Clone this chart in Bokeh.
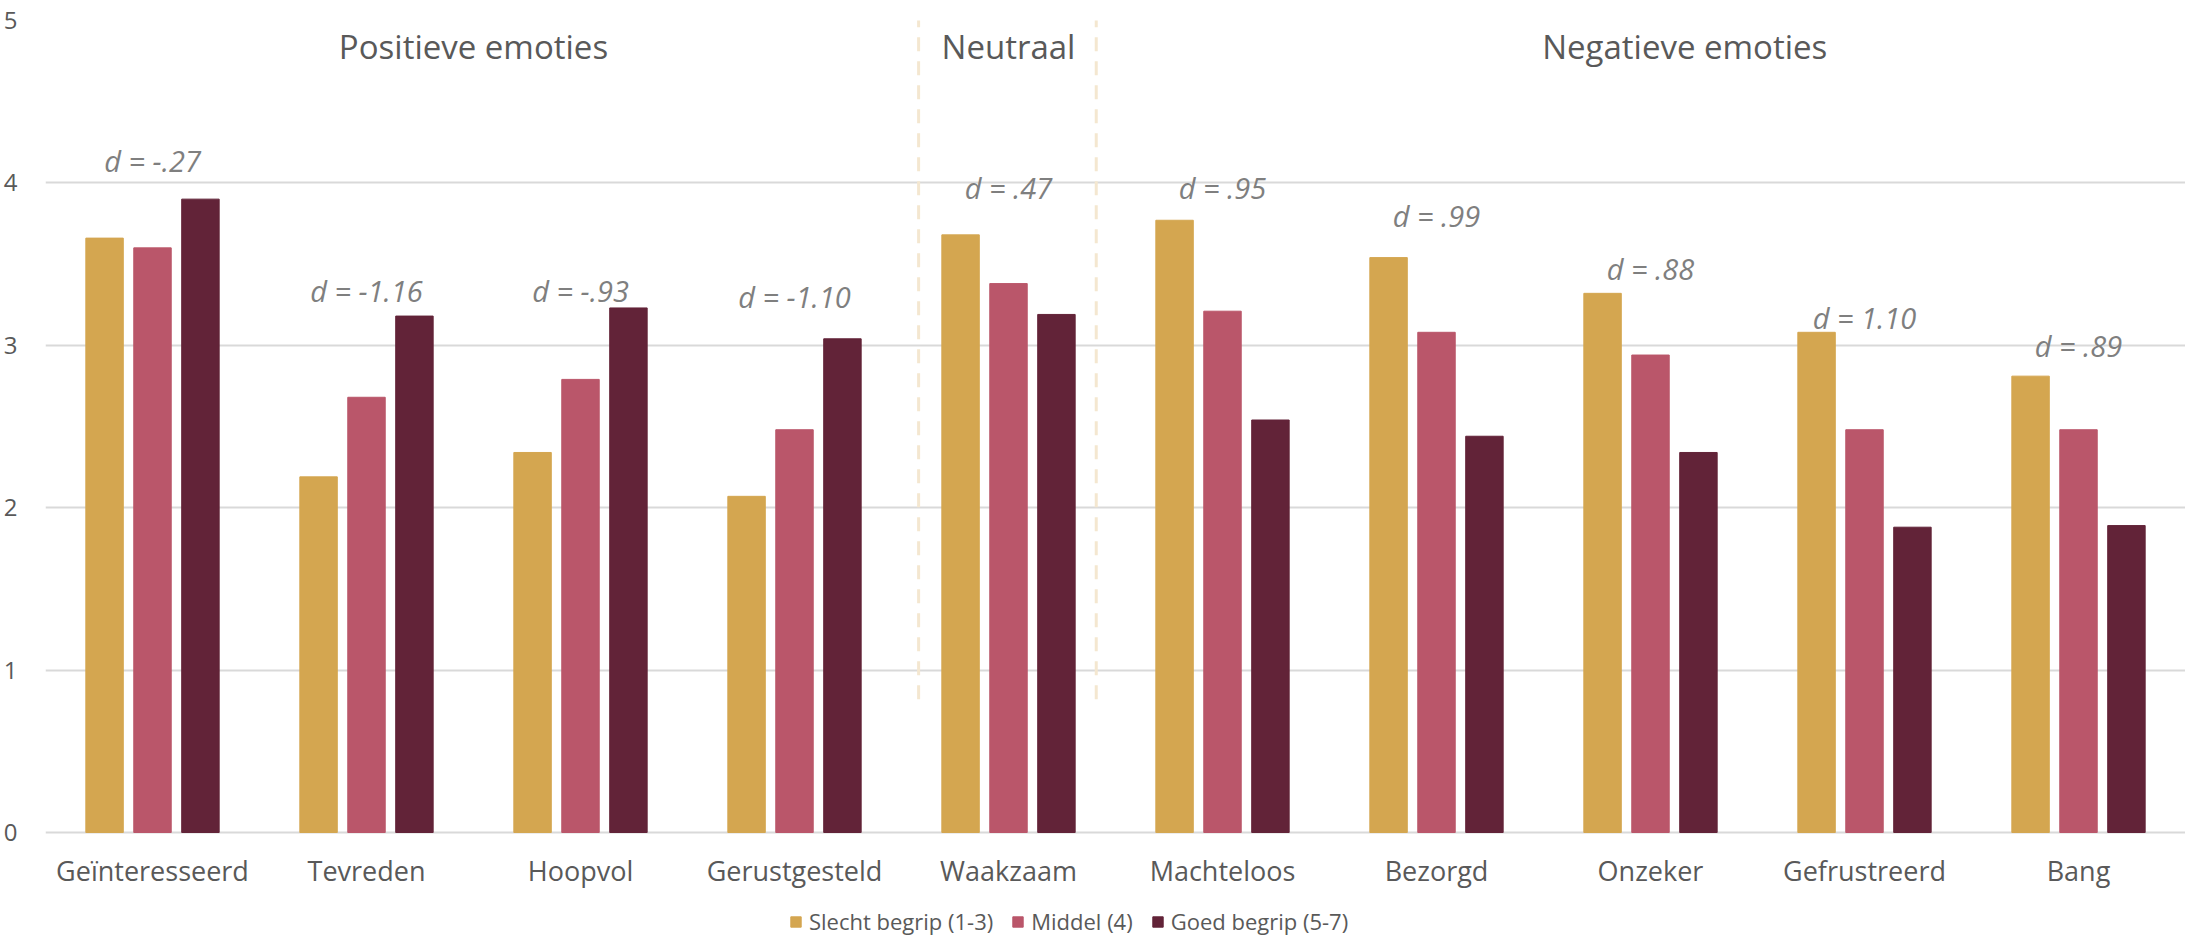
from bokeh.plotting import figure
from bokeh.models import ColumnDataSource, Legend, LegendItem, FixedTicker, Range1d
from bokeh.transform import dodge
from bokeh.core.properties import value
from bokeh.embed import file_html
from bokeh.resources import INLINE

categories = ["Geïnteresseerd", "Tevreden", "Hoopvol", "Gerustgesteld", "Waakzaam",
              "Machteloos", "Bezorgd", "Onzeker", "Gefrustreerd", "Bang"]
slecht = [3.66, 2.19, 2.34, 2.07, 3.68, 3.77, 3.54, 3.32, 3.08, 2.81]
middel = [3.60, 2.68, 2.79, 2.48, 3.38, 3.21, 3.08, 2.94, 2.48, 2.48]
goed = [3.90, 3.18, 3.23, 3.04, 3.19, 2.54, 2.44, 2.34, 1.88, 1.89]
series_names = ["Slecht begrip (1-3)", "Middel (4)", "Goed begrip (5-7)"]
d_labels = ["d = -.27", "d = -1.16", "d = -.93", "d = -1.10", "d = .47",
            "d = .95", "d = .99", "d = .88", "d = 1.10", "d = .89"]
d_label_y = [4.14, 3.34, 3.34, 3.30, 3.97, 3.97, 3.80, 3.47, 3.17, 3.00]
section_names = ["Positieve emoties", "Neutraal", "Negatieve emoties"]
section_anchor = ["Hoopvol", "Waakzaam", "Onzeker"]
y_ticks = [0, 1, 2, 3, 4, 5]

colors = ["#D4A650", "#BA566A", "#622338"]
TEXT = "#595959"
FONT = "Open Sans"

# layout: 162.4 px per unit; the frame extends below 0 to hold labels and legend
PX_PER_UNIT = 162.4
FRAME_H = 916
Y_MAX = 5
Y_MIN = Y_MAX - FRAME_H / PX_PER_UNIT
LABEL_Y = -0.234

src = ColumnDataSource(dict(cat=categories, slecht=slecht, middel=middel, goed=goed,
                            dl=d_labels, dly=d_label_y, ly=[LABEL_Y] * len(categories)))

p = figure(x_range=categories, y_range=Range1d(Y_MIN, Y_MAX), frame_width=2140, frame_height=FRAME_H,
           output_backend="svg", toolbar_location=None,
           min_border_left=44, min_border_right=0, min_border_top=20, min_border_bottom=0)
p.x_range.range_padding = 0

offsets = [-0.224, 0.0, 0.224]
renderers = []
for col, off, c in zip(["slecht", "middel", "goed"], offsets, colors):
    r = p.vbar(x=dodge("cat", off, range=p.x_range), top=col, bottom=0, width=0.175,
               source=src, fill_color=c, line_color=c)
    renderers.append(r)

# separators around the neutral group
for off in (-0.42, 0.41):
    p.segment(x0=dodge("x", off, range=p.x_range), x1=dodge("x", off, range=p.x_range),
              y0="y0", y1="y1", source=ColumnDataSource(dict(x=["Waakzaam"], y0=[0.82], y1=[5.1])),
              line_color="#F4E7D0", line_width=3, line_dash="14 10")

# effect size labels
p.text(x="cat", y="dly", text="dl", source=src, text_align="center", text_baseline="middle",
       text_font=value(FONT), text_font_style="italic", text_font_size="29px",
       text_color="#7F7F7F")

# category labels
p.text(x="cat", y="ly", text="cat", source=src, text_align="center", text_baseline="middle",
       text_font=value(FONT), text_font_size="27px", text_color=TEXT)

# section titles
sec_off = [-0.5, 0.0, 0.16]
for i, off in enumerate(sec_off):
    p.text(x=dodge("x", off, range=p.x_range), y="y", text="t",
           source=ColumnDataSource(dict(x=[section_anchor[i]], y=[4.84], t=[section_names[i]])),
           text_align="center", text_baseline="middle",
           text_font=value(FONT), text_font_size="33px", text_color=TEXT)

p.outline_line_color = None
p.xgrid.grid_line_color = None
p.ygrid.grid_line_color = "#D9D9D9"
p.ygrid.grid_line_width = 2
p.yaxis.ticker = FixedTicker(ticks=y_ticks)
p.yaxis.axis_line_color = None
p.yaxis.major_tick_line_color = None
p.yaxis.minor_tick_line_color = None
p.yaxis.major_label_standoff = 22
p.yaxis.major_label_text_font = FONT
p.yaxis.major_label_text_font_size = "24px"
p.yaxis.major_label_text_color = TEXT
p.xaxis.visible = False

legend = Legend(items=[LegendItem(label=n, renderers=[r]) for n, r in zip(series_names, renderers)],
                orientation="horizontal", location=(744, 0),
                glyph_width=13, glyph_height=13, label_standoff=7, spacing=18,
                label_text_font=FONT, label_text_font_size="22px", label_text_color=TEXT,
                border_line_color=None, background_fill_alpha=0, padding=0, margin=0)
p.add_layout(legend, "center")

open("out.html", "w").write(file_html(p, INLINE))
